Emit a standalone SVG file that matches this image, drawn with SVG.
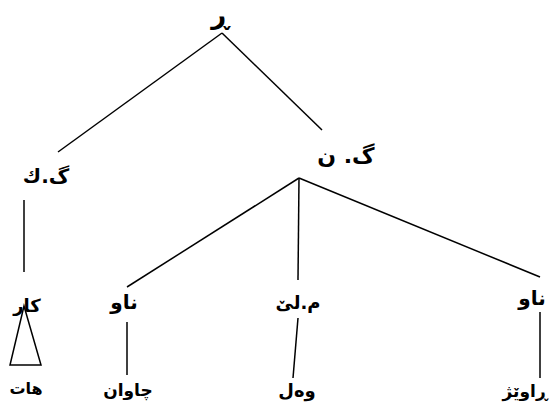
<svg xmlns="http://www.w3.org/2000/svg" width="557" height="410" viewBox="0 0 557 410">
<style>
.t{font-family:"DejaVu Sans",sans-serif;font-weight:bold;fill:#000;text-anchor:middle}
.e{stroke:#000;stroke-width:1.5;fill:none}
</style>
<rect width="557" height="410" fill="#fff"/>
<g id="connectors">
<line class="e" x1="222" y1="33" x2="58" y2="152"/>
<line class="e" x1="222" y1="33" x2="322" y2="130"/>
<line class="e" x1="299" y1="178" x2="127" y2="287"/>
<line class="e" x1="299" y1="178" x2="298" y2="280"/>
<line class="e" x1="299" y1="178" x2="540" y2="277"/>
<line class="e" x1="24" y1="200" x2="24" y2="272"/>
<line class="e" x1="127" y1="322" x2="127" y2="375"/>
<line class="e" x1="298" y1="318" x2="293" y2="378"/>
<line class="e" x1="540" y1="312" x2="540" y2="378"/>
</g>
<g id="root"><text class="t" x="220" y="24" font-size="26">ڕ</text></g>
<g id="gk"><text class="t" x="46" y="183" font-size="20">گ.ك</text></g>
<g id="gn"><text class="t" x="346" y="163" font-size="22">گ. ن</text></g>
<g id="kar"><text class="t" x="27" y="312" font-size="18">كار</text>
<polygon class="e" points="24,306 10,365 41,365"/></g>
<g id="hat"><text class="t" x="26" y="394" font-size="16">هات</text></g>
<g id="naw1"><text class="t" x="124" y="309" font-size="20">ناو</text></g>
<g id="chawan"><text class="t" x="128" y="396" font-size="17">چاوان</text></g>
<g id="mle"><text class="t" x="298" y="309" font-size="18">م.لێ</text></g>
<g id="wal"><text class="t" x="297" y="397" font-size="18">وەل</text></g>
<g id="naw2"><text class="t" x="532" y="305" font-size="20">ناو</text></g>
<g id="rawezh"><text class="t" x="525" y="397" font-size="17">ڕاوێژ</text></g>
</svg>
